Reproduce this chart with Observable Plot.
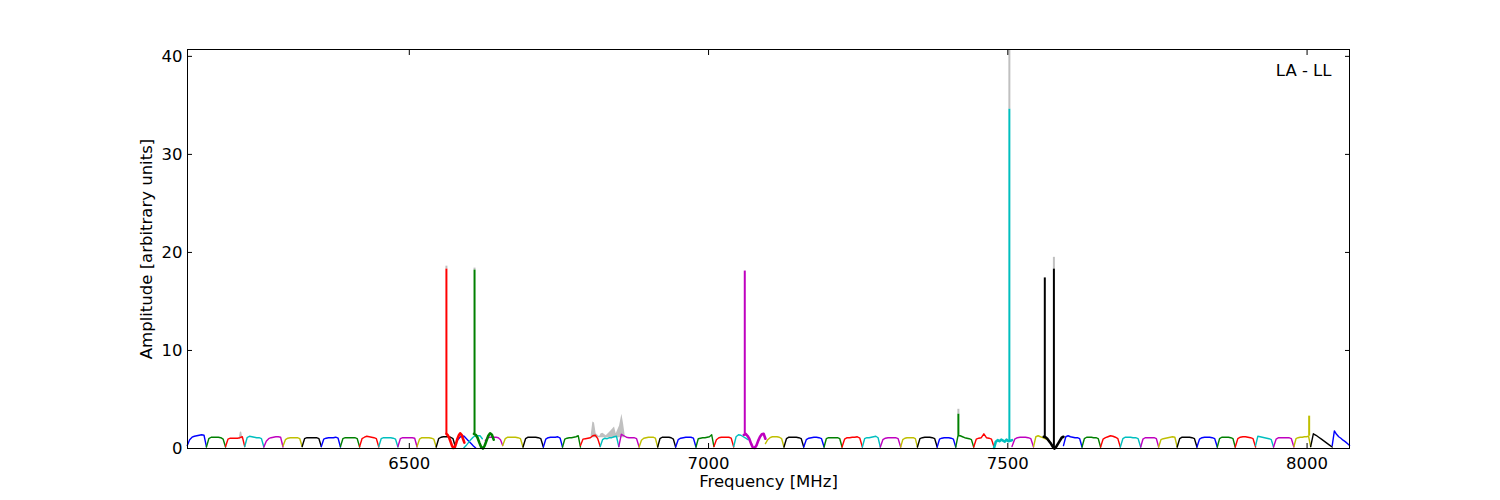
<!DOCTYPE html>
<html><head><meta charset="utf-8">
<script src="https://cdn.jsdelivr.net/npm/d3@7"></script>
<script src="https://cdn.jsdelivr.net/npm/@observablehq/plot@0.6"></script>
<style>body{margin:0;background:#fff;}</style>
</head><body><div id="chart"></div>
<script>
// ---- axis ticks ----
const xTicks = [6500, 7000, 7500, 8000];
const yTicks = [0, 10, 20, 30, 40];

// ---- matplotlib classic colour letters ----
const palette = {b: "#0000ff", g: "#008000", r: "#ff0000", c: "#00bfbf", m: "#bf00bf", y: "#bfbf00", k: "#000000"};

// ---- spectral windows (MHz) ----
const winColor = ["b","g","r","c","m","y","k","b","g","r","c","m","y","k",
  "r","b","c","g","m",
  "y","k","b","g","r","c","m","y","k","b","g","r","c","m",
  "y","k","b","g","r","c","m","y","k","b","g","r","c","m","y","k",
  "b","g","r","c","m","y","k","b","g","r","c","m","y","k","b"];
const winStart = [6129,6161,6193,6225,6257,6289,6321,6353,6385,6417,6449,6481,6513,6545,
  6562,6580,6591,6608,6627,
  6656,6690,6724,6756,6786,6819,6850,6884,6915,6945,6979,7009,7042,7059,
  7095,7126,7159,7193,7223,7257,7287,7321,7349,7382,7413,7443,7477,7507,7543,7560,
  7593,7624,7655,7688,7722,7752,7783,7816,7850,7880,7914,7944,7978,8006,8042];
const winEnd = [6161,6193,6225,6257,6289,6321,6353,6385,6417,6449,6481,6513,6545,6577,
  6592,6611,6622,6641,6656,
  6690,6724,6756,6786,6819,6850,6884,6915,6945,6979,7009,7042,7066,7095,
  7126,7159,7193,7223,7257,7287,7321,7349,7382,7413,7443,7477,7507,7543,7566,7593,
  7624,7655,7688,7722,7752,7783,7816,7850,7880,7914,7944,7978,8006,8042,8071];
// 1 = dense (thick-looking) window
const winThick = [0,0,0,0,0,0,0,0,0,0,0,0,0,0,
  1,0,0,1,0,
  0,0,0,0,0,0,0,0,0,0,0,0,0,1,
  0,0,0,0,0,0,0,0,0,0,0,0,1,0,0,1,
  0,0,0,0,0,0,0,0,0,0,0,0,0,0,0];
// amplitudes, evenly spaced across each window
const winVals = [
  [0.3,0.9,1.15,1.25,1.3,1.35,1.4,1.35,0.2],
  [0.15,1.0,1.15,1.15,1.15,1.15,1.1,0.95,0.15],
  [0.2,0.95,1.05,1.05,1.05,1.05,1.1,1.2,0.2],
  [0.2,1.1,1.25,1.2,1.15,1.1,1.1,1.0,0.15],
  [0.15,0.75,1.0,1.1,1.15,1.2,1.2,1.15,0.15],
  [0.25,0.9,1.05,1.1,1.1,1.1,1.1,1.0,0.2],
  [0.2,1.0,1.1,1.1,1.1,1.1,1.1,1.0,0.2],
  [0.2,0.95,1.05,1.1,1.1,1.1,1.15,1.05,0.15],
  [0.2,1.0,1.1,1.1,1.1,1.1,1.1,1.0,0.15],
  [0.2,1.0,1.15,1.25,1.2,1.15,1.1,1.0,0.15],
  [0.2,1.0,1.1,1.1,1.1,1.1,1.05,0.95,0.15],
  [0.2,1.0,1.1,1.1,1.1,1.1,1.1,1.05,0.15],
  [0.2,0.95,1.1,1.1,1.1,1.1,1.05,0.95,0.15],
  [0.15,1.0,1.15,1.2,1.2,1.2,1.15,1.0,0.15],
  [1.5,1.35,1.1,0.7,0.3,0.05,0.1,0.5,1.0,1.35,1.55,1.4,1.0,0.6],
  [0.8,1.1,1.3,1.25,1.0,0.75,0.5,0.25,0.05],
  [0.05,0.3,0.6,0.9,1.15,1.3,1.3,1.3,1.0],
  [1.5,1.4,1.1,0.6,0.15,0.0,0.3,0.8,1.3,1.55,1.4,0.9],
  [0.8,1.1,1.15,1.15,1.15,1.15,1.1,0.9,0.3],
  [0.3,1.0,1.15,1.15,1.15,1.15,1.1,1.0,0.15],
  [0.15,1.0,1.15,1.15,1.15,1.15,1.1,1.0,0.15],
  [0.15,0.95,1.1,1.15,1.15,1.15,1.2,1.05,0.15],
  [0.15,0.95,1.05,1.1,1.1,1.15,1.2,1.3,0.15],
  [0.3,0.95,1.0,1.05,1.1,1.3,1.35,1.0,0.2],
  [0.2,0.9,1.05,1.0,1.1,1.1,1.2,1.25,0.2],
  [0.2,1.45,1.3,1.15,1.1,1.1,1.1,1.0,0.15],
  [0.15,0.85,1.05,1.1,1.15,1.15,1.15,1.05,0.15],
  [0.15,1.0,1.15,1.15,1.15,1.15,1.1,0.95,0.15],
  [0.15,0.9,1.05,1.1,1.15,1.15,1.15,1.05,0.15],
  [0.15,1.0,1.05,1.1,1.1,1.15,1.2,1.4,0.2],
  [0.2,0.9,1.1,1.15,1.15,1.15,1.15,1.05,0.15],
  [0.2,1.2,1.4,1.35,1.2,1.05,0.9],
  [1.4,1.5,1.3,1.0,0.5,0.1,0.05,0.3,0.8,1.2,1.45,1.5,1.0],
  [0.5,0.9,1.1,1.2,1.2,1.2,1.15,1.0,0.15],
  [0.15,1.0,1.15,1.15,1.15,1.15,1.1,1.0,0.15],
  [0.15,0.9,1.05,1.1,1.15,1.15,1.1,1.0,0.15],
  [0.15,1.0,1.1,1.1,1.1,1.1,1.1,1.0,0.15],
  [0.15,0.95,1.1,1.1,1.15,1.15,1.2,1.05,0.15],
  [0.15,1.0,1.1,1.1,1.15,1.2,1.25,1.1,0.15],
  [0.15,0.9,1.05,1.1,1.1,1.1,1.1,1.0,0.15],
  [0.15,0.9,1.05,1.1,1.1,1.1,1.1,1.0,0.15],
  [0.15,1.0,1.1,1.15,1.15,1.15,1.1,1.0,0.15],
  [0.15,0.95,1.05,1.1,1.1,1.1,1.05,0.95,0.15],
  [0.15,1.3,1.3,1.2,1.1,1.05,1.0,0.9,0.15],
  [0.15,0.95,1.05,1.1,1.5,1.1,1.05,0.95,0.15],
  [0.05,0.7,0.85,0.75,0.9,0.8,0.7,0.9,0.75,0.8,0.85],
  [0.2,0.95,1.1,1.15,1.15,1.15,1.1,1.0,0.15],
  [0.2,1.2,1.3,1.2,1.1,1.0,0.9],
  [1.2,1.15,1.0,0.75,0.5,0.2,0.0,0.2,0.5,0.8,1.1,1.2],
  [0.3,1.2,1.3,1.2,1.15,1.1,1.1,1.0,0.15],
  [0.15,1.0,1.15,1.15,1.15,1.1,1.1,1.0,0.15],
  [0.15,0.95,1.1,1.2,1.3,1.25,1.15,1.0,0.15],
  [0.15,1.0,1.15,1.15,1.15,1.1,1.1,1.0,0.15],
  [0.15,0.95,1.1,1.1,1.1,1.1,1.1,1.0,0.15],
  [0.15,0.9,1.0,1.05,1.1,1.15,1.2,1.15,0.15],
  [0.15,1.0,1.15,1.15,1.15,1.15,1.1,1.0,0.15],
  [0.15,0.95,1.1,1.15,1.15,1.15,1.1,1.0,0.15],
  [0.15,1.0,1.15,1.15,1.15,1.15,1.1,1.0,0.15],
  [0.15,1.0,1.15,1.2,1.2,1.15,1.1,1.0,0.15],
  [0.3,1.25,1.2,1.15,1.1,1.05,1.0,0.9,0.15],
  [0.15,0.95,1.1,1.1,1.1,1.1,1.1,1.0,0.15],
  [0.2,1.0,1.1,1.15,1.15,1.2,1.2,1.25,0.2],
  [0.2,1.5,1.35,1.15,0.95,0.75,0.55,0.35,0.15],
  [0.3,1.8,1.45,1.2,1.05,0.85,0.7,0.5,0.3]
];

// ---- narrow spectral-line spikes ----
const spikeFreq  = [6562, 6609, 7060.5, 7417.4, 7502.6, 7561.8, 7577, 8003.5];
const spikeColor = ["r", "g", "m", "g", "c", "k", "k", "y"];
const spikeBase  = [1.5, 1.5, 1.5, 1.3, 0.8, 1.15, 0.0, 1.25];
const spikeTop   = [18.3, 18.2, 18.1, 3.5, 34.6, 17.4, 18.3, 3.3];
const spikeGrey  = [18.6, 18.4, 18.1, 4.0, 40.7, 17.4, 19.5, 3.3];

// ---- grey (underlying) spectrum where it shows above the coloured one ----
const greyFreq = [6803.9,6806.7,6809.4,6812.2,6817.8,6820.6,6823.4,6829,6837.3,6842.9,6845.7,6851.3,6855.2,6858,6860.7];
const greyVal  = [1.33,2.7,2.6,1.5,1.2,1.5,1.55,1.3,1.8,2.2,1.5,2.3,3.5,2.5,1.3];
const greyBase = [1.1,1.1,1.1,1.1,1.1,1.1,1.1,1.1,1.1,1.1,1.1,1.1,1.1,1.1,1.1];
const greySmallF = [6216.5, 6218, 6219.5];
const greySmallV = [1.1, 1.66, 1.1];

// ---- build tables ----
const rows = [];
winVals.forEach((vals, i) => {
  const n = vals.length, s = winStart[i], e = winEnd[i];
  vals.forEach((v, j) => rows.push({f: s + j * (e - s) / (n - 1), v, w: i, col: palette[winColor[i]], thick: winThick[i]}));
});
const spikes = spikeFreq.map((f, i) => ({f, base: spikeBase[i], top: spikeTop[i], grey: spikeGrey[i], col: palette[spikeColor[i]]}));
const grey = greyFreq.map((f, i) => ({f, v: greyVal[i], b: greyBase[i]}));
const greySmall = greySmallF.map((f, i) => ({f, v: greySmallV[i]}));

const GREY = "#c0c0c0";
const fmt = d => String(d);
const chart = Plot.plot({
  width: 1500, height: 500,
  marginLeft: 187, marginRight: 151, marginTop: 49, marginBottom: 52,
  x: {domain: [6129.4, 8070.9]},
  y: {domain: [0, 40.7]},
  color: {type: "identity"},
  style: {fontFamily: "DejaVu Sans, sans-serif", fontSize: "16.5px", background: "#fff", color: "#000"},
  marks: [
    Plot.areaY(grey, {x: "f", y1: "b", y2: "v", fill: GREY}),
    Plot.line(greySmall, {x: "f", y: "v", stroke: GREY, strokeWidth: 1.5}),
    Plot.ruleX(spikes, {x: "f", y1: "top", y2: "grey", stroke: GREY, strokeWidth: 2}),
    Plot.line(rows.filter(d => !d.thick), {x: "f", y: "v", z: "w", stroke: "col", strokeWidth: 1.4}),
    Plot.line(rows.filter(d => d.thick), {x: "f", y: "v", z: "w", stroke: "col", strokeWidth: 2.6}),
    Plot.ruleX(spikes, {x: "f", y1: "base", y2: "top", stroke: "col", strokeWidth: 2}),
    Plot.frame({stroke: "#000", strokeWidth: 1}),
    // inward tick marks on all four sides
    Plot.axisX(xTicks, {anchor: "bottom", tickSize: 5, dy: -5, fill: "none", label: null}),
    Plot.axisX(xTicks, {anchor: "top", tickSize: 5, dy: 5, fill: "none", label: null}),
    Plot.axisY(yTicks, {anchor: "left", tickSize: 5, dx: 5, fill: "none", label: null}),
    Plot.axisY(yTicks, {anchor: "right", tickSize: 5, dx: -5, fill: "none", label: null}),
    // tick labels
    Plot.axisX(xTicks, {anchor: "bottom", tickSize: 0, tickPadding: 9, stroke: "none", label: null, tickFormat: fmt}),
    Plot.axisY(yTicks, {anchor: "left", tickSize: 0, tickPadding: 5, stroke: "none", label: null, tickFormat: fmt}),
    // axis titles and annotation
    Plot.text(["Frequency [MHz]"], {frameAnchor: "bottom", dy: 33, lineAnchor: "middle", textAnchor: "middle", fill: "#000"}),
    Plot.text(["Amplitude [arbitrary units]"], {frameAnchor: "left", dx: -41, rotate: -90, textAnchor: "middle", lineAnchor: "middle", fill: "#000"}),
    Plot.text(["LA - LL"], {frameAnchor: "top-right", dx: -18, dy: 21, textAnchor: "end", lineAnchor: "middle", fill: "#000"})
  ]
});
document.getElementById("chart").appendChild(chart);
</script>
</body></html>
